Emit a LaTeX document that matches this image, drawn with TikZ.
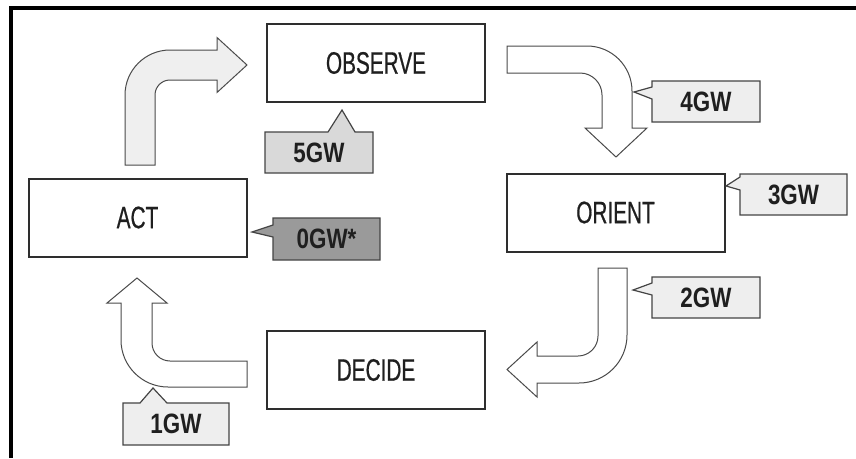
\documentclass[tikz,border=0pt]{standalone}
\usepackage{fontspec}
\setmainfont{Liberation Sans}
\newfontfamily\stagefont[FakeStretch=0.67,FakeBold=0.6]{Liberation Sans}
\newfontfamily\gwfont[FakeStretch=0.8]{Liberation Sans}
\definecolor{boxline}{HTML}{2E2E2E}
\definecolor{arrowline}{HTML}{4A4A4A}
\definecolor{tagline}{HTML}{444444}
\definecolor{paleflow}{HTML}{EFEFEF}
\definecolor{paletag}{HTML}{EEEEEE}
\definecolor{midtag}{HTML}{D9D9D9}
\definecolor{darktag}{HTML}{9A9A9A}

\begin{document}
\begin{tikzpicture}[x=1pt,y=-1pt,
	stage/.style={draw=boxline,line width=2pt,minimum width=218pt,minimum height=78pt,inner sep=0pt,font=\stagefont\fontsize{31}{33}\selectfont,text=black!88},
	flow/.style={draw=arrowline,line width=1pt,line join=miter},
	gwtag/.style={draw=tagline,line width=1.2pt,line join=miter},
	gwtext/.style={inner sep=0pt,font=\gwfont\bfseries\fontsize{28}{30}\selectfont,text=black!88}]
		\useasboundingbox (0,0) rectangle (856,458);
		\draw[line width=4.5pt] (11,458) -- (11,8) -- (856,8);
		% the four stages
		\node[stage] (observe) at (376,63) {OBSERVE};
		\node[stage] (orient) at (615.5,212.5) {ORIENT};
		\node[stage] (decide) at (376,370) {DECIDE};
		\node[stage] (act) at (137.5,217.5) {ACT};
		% bent arrows
		\draw[flow,fill=paleflow] (125,165) -- (125,95) .. controls (125,70.2) and (145.2,50) .. (170,50) -- (217,50) -- (217,37.5) -- (247,65) -- (217,92.5) -- (217,80) -- (170,80) .. controls (161.7,80) and (155,86.7) .. (155,95) -- (155,165) -- cycle;
		\draw[flow,fill=white] (507,46) -- (587,46) .. controls (611.8,46) and (632,66.2) .. (632,91) -- (632,128) -- (647,128) -- (616,157) -- (585,128) -- (602,128) -- (602,95) .. controls (602,82.9) and (592.1,73) .. (580,73) -- (507,73) -- cycle;
		\draw[flow,fill=white] (598,268) -- (627,268) -- (627,335) .. controls (627,361.5) and (605.5,383) .. (579,383) -- (537,383) -- (537,397) -- (507,369.5) -- (537,342) -- (537,356) -- (578,356) .. controls (589,356) and (598,347) .. (598,336) -- cycle;
		\draw[flow,fill=white] (247,361) -- (170,361) .. controls (160.1,361) and (152,352.9) .. (152,343) -- (152,303) -- (167,303) -- (137,278) -- (107,303) -- (121,303) -- (121,340) .. controls (121,365.9) and (142.1,387) .. (168,387) -- (247,387) -- cycle;
		% generation tags
		\draw[gwtag,fill=midtag] (265,132) -- (328,132) -- (342,110) -- (355,132) -- (373,132) -- (373,173) -- (265,173) -- cycle;
		\draw[gwtag,fill=paletag] (652,81) -- (760,81) -- (760,122) -- (652,122) -- (652,99) -- (634,92) -- (652,87) -- cycle;
		\draw[gwtag,fill=paletag] (740,174) -- (847,174) -- (847,215) -- (740,215) -- (740,190) -- (726,186) -- (740,177) -- cycle;
		\draw[gwtag,fill=paletag] (652,277) -- (760,277) -- (760,318) -- (652,318) -- (652,295) -- (633,290) -- (652,283) -- cycle;
		\draw[gwtag,fill=darktag] (273,218) -- (380,218) -- (380,260) -- (273,260) -- (273,237) -- (252,232) -- (273,225) -- cycle;
		\draw[gwtag,fill=paletag] (123,403) -- (140,403) -- (153,388) -- (167,403) -- (229,403) -- (229,445) -- (123,445) -- cycle;
		\node[gwtext] (gw5) at (319,152.5) {5GW};
		\node[gwtext] (gw4) at (706,101.5) {4GW};
		\node[gwtext] (gw3) at (793.5,194.5) {3GW};
		\node[gwtext] (gw2) at (706,297.5) {2GW};
		\node[gwtext] (gw0) at (326.5,239) {0GW*};
		\node[gwtext] (gw1) at (176,424) {1GW};
\end{tikzpicture}
\end{document}
